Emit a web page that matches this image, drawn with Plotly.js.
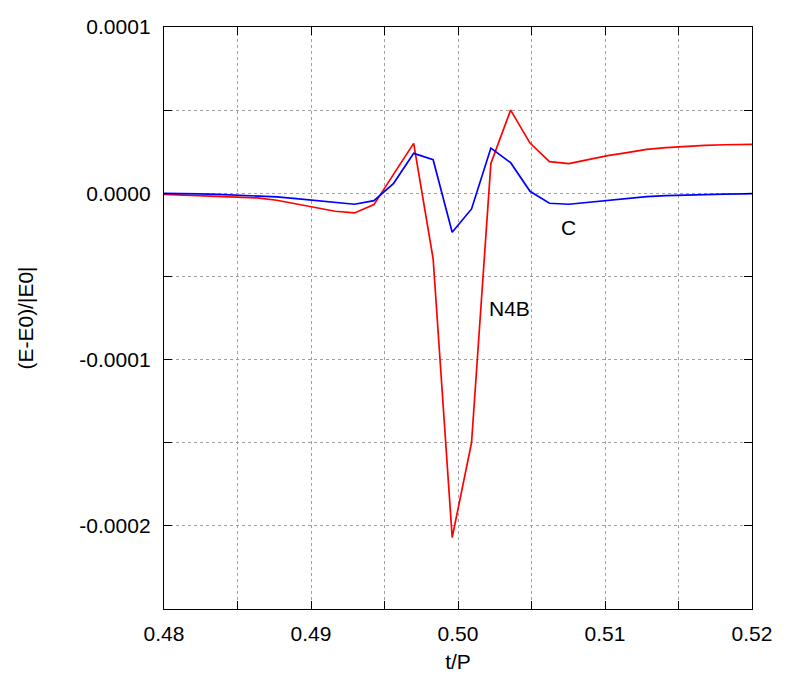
<!DOCTYPE html>
<html>
<head>
<meta charset="utf-8">
<script src="https://cdn.plot.ly/plotly-3.0.1.min.js"></script>
<style>html,body{margin:0;padding:0;background:#fff;}#chart{width:789px;height:676px;}</style>
</head>
<body>
<div id="chart"></div>
<script>
const tVals = [0.479727,0.481050,0.482374,0.483697,0.485020,0.486344,0.487667,0.488990,0.490314,0.491637,
  0.492960,0.494284,0.495621,0.496985,0.498308,0.499604,0.500921,0.502237,0.503581,0.504898,
  0.506221,0.507538,0.508861,0.510184,0.511508,0.512831,0.514154,0.515477,0.516801,0.518124,
  0.519447,0.520771];
const n4bVals = [-0.05e-5,-0.10e-5,-0.13e-5,-0.18e-5,-0.22e-5,-0.28e-5,-0.42e-5,-0.64e-5,-0.86e-5,-1.08e-5,
  -1.18e-5,-0.68e-5,1.15e-5,3.0e-5,-3.94e-5,-20.7e-5,-15.0e-5,1.8e-5,5.0e-5,3.02e-5,
  1.9e-5,1.78e-5,2.02e-5,2.26e-5,2.44e-5,2.64e-5,2.74e-5,2.82e-5,2.88e-5,2.92e-5,
  2.94e-5,2.95e-5];
const cVals = [0,0,-0.03e-5,-0.06e-5,-0.10e-5,-0.16e-5,-0.22e-5,-0.32e-5,-0.44e-5,-0.56e-5,
  -0.66e-5,-0.44e-5,0.6e-5,2.4e-5,2.02e-5,-2.34e-5,-0.94e-5,2.72e-5,1.84e-5,0.12e-5,
  -0.6e-5,-0.66e-5,-0.54e-5,-0.4e-5,-0.28e-5,-0.2e-5,-0.14e-5,-0.1e-5,-0.07e-5,-0.05e-5,
  -0.03e-5,-0.02e-5];
const xTickVals = [0.48,0.485,0.49,0.495,0.50,0.505,0.51,0.515,0.52];
const xTickText = ['0.48','','0.49','','0.50','','0.51','','0.52'];
const yTickVals = [0.0001,0.00005,0,-0.00005,-0.0001,-0.00015,-0.0002,-0.00025];
const yTickText = ['0.0001','','0.0000','','-0.0001','','-0.0002',''];
const labels = [{text:'N4B', x:0.50351, y:-6.95e-5},{text:'C', x:0.50754, y:-2.06e-5}];

const font = {family:'Liberation Sans, Arial, sans-serif', size:21, color:'#000'};
const traces = [
  {x:tVals, y:n4bVals, mode:'lines', line:{color:'#ff0000', width:1.7}, name:'N4B', showlegend:false},
  {x:tVals, y:cVals, mode:'lines', line:{color:'#0000ff', width:1.7}, name:'C', showlegend:false}
];
const axisCommon = {showline:true, linecolor:'#000', linewidth:1.2, mirror:'ticks', ticks:'inside', ticklen:8,
  tickcolor:'#000', tickwidth:1, showgrid:true, gridcolor:'#a0a0a0', griddash:'dot', gridwidth:1,
  zeroline:false, tickfont:font, tickmode:'array'};
const layout = {
  width:789, height:676, margin:{l:164, r:37, t:27, b:67},
  paper_bgcolor:'#fff', plot_bgcolor:'#fff', font:font, showlegend:false,
  xaxis:Object.assign({}, axisCommon, {range:[0.48,0.52], tickvals:xTickVals, ticktext:xTickText,
    ticklabelstandoff:6, title:{text:'t/P', font:font, standoff:9}}),
  yaxis:Object.assign({}, axisCommon, {range:[-0.00025,0.0001], tickvals:yTickVals, ticktext:yTickText,
    ticklabelstandoff:8, title:{text:'(E-E0)/|E0|', font:font, standoff:40}}),
  annotations: labels.map(l => ({text:l.text, x:l.x, y:l.y, xref:'x', yref:'y', showarrow:false, font:font}))
};
Plotly.newPlot('chart', traces, layout, {displayModeBar:false, staticPlot:true});
</script>
</body>
</html>
